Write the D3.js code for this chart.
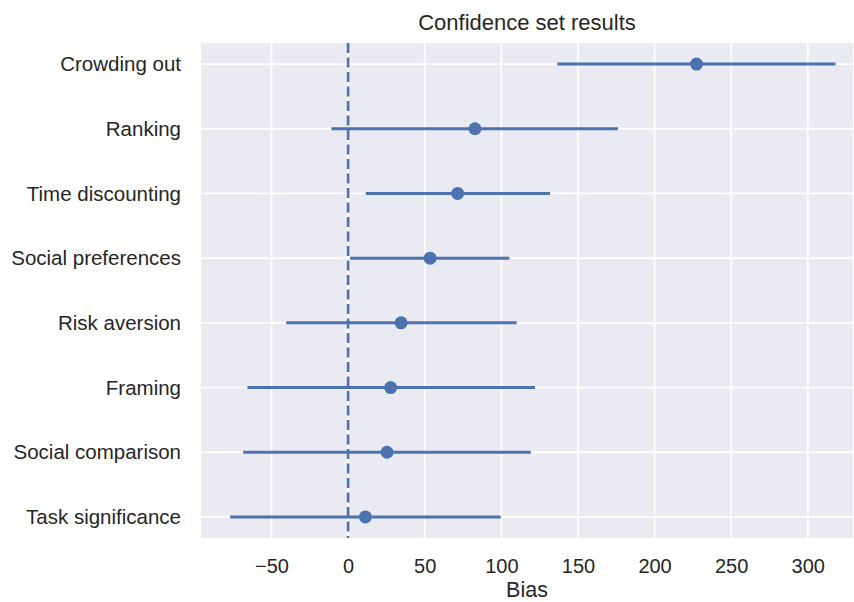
<!DOCTYPE html>
<html lang="en">
<head>
<meta charset="UTF-8">
<title>Confidence set results</title>
<style>
    body { margin: 0; background: #fff; }
    text { font-family: "Liberation Sans", Arial, sans-serif; fill: #262626; }
    .grid line { stroke: #fff; stroke-width: 1.8px; }
    .ci { stroke: #4c72b0; stroke-width: 3px; }
    .dot { fill: #4c72b0; }
</style>
</head>
<body>
<script src="https://d3js.org/d3.v7.min.js"></script>
<script>
    const categories = ["Crowding out", "Ranking", "Time discounting", "Social preferences",
        "Risk aversion", "Framing", "Social comparison", "Task significance"];
    const estimates = [227.4, 82.8, 71.5, 53.5, 34.6, 27.8, 25.4, 11.3];
    const lower = [136.5, -10.9, 11.5, 1.3, -40.4, -65.7, -68.5, -77.0];
    const upper = [318.1, 176.1, 131.8, 105.2, 110.0, 122.0, 119.2, 99.6];
    const xTicks = [-50, 0, 50, 100, 150, 200, 250, 300];

    const width = 854, height = 602;
    const margin = { top: 43, right: 1, bottom: 64, left: 201 };

    const svg = d3.select("body").append("svg")
        .attr("width", width)
        .attr("height", height);

    const x = d3.scaleLinear()
        .domain([-96, 329.5])
        .range([margin.left, width - margin.right]);

    const y = d3.scalePoint()
        .domain(categories)
        .range([margin.top, height - margin.bottom])
        .padding(0.325);

    // background panel
    svg.append("rect")
        .attr("x", margin.left)
        .attr("y", margin.top)
        .attr("width", width - margin.right - margin.left)
        .attr("height", height - margin.bottom - margin.top)
        .attr("fill", "#eaeaf2");

    const grid = svg.append("g").attr("class", "grid");
    grid.selectAll(".vx")
        .data(xTicks)
        .enter().append("line")
        .attr("x1", d => x(d)).attr("x2", d => x(d))
        .attr("y1", margin.top).attr("y2", height - margin.bottom);
    grid.selectAll(".hy")
        .data(categories)
        .enter().append("line")
        .attr("x1", margin.left).attr("x2", width - margin.right)
        .attr("y1", d => y(d)).attr("y2", d => y(d));

    // zero reference line
    svg.append("line")
        .attr("x1", x(0)).attr("x2", x(0))
        .attr("y1", margin.top).attr("y2", height - margin.bottom)
        .attr("stroke", "#4c72b0")
        .attr("stroke-width", 2.6)
        .attr("stroke-dasharray", "10,4.5");

    const rows = categories.map((c, i) => ({ name: c, est: estimates[i], lo: lower[i], hi: upper[i] }));

    svg.selectAll(".ci")
        .data(rows)
        .enter().append("line")
        .attr("class", "ci")
        .attr("x1", d => x(d.lo)).attr("x2", d => x(d.hi))
        .attr("y1", d => y(d.name)).attr("y2", d => y(d.name));

    svg.selectAll(".dot")
        .data(rows)
        .enter().append("circle")
        .attr("class", "dot")
        .attr("cx", d => x(d.est))
        .attr("cy", d => y(d.name))
        .attr("r", 6.5);

    // axes
    const xAxis = svg.append("g")
        .attr("transform", `translate(0,${height - margin.bottom})`)
        .call(d3.axisBottom(x).tickValues(xTicks).tickSize(0).tickPadding(21)
            .tickFormat(d => d < 0 ? "\u2212" + Math.abs(d) : d));
    xAxis.select(".domain").remove();
    xAxis.selectAll("text").style("font-size", "20px").attr("fill", "#262626");

    const yAxis = svg.append("g")
        .attr("transform", `translate(${margin.left},0)`)
        .call(d3.axisLeft(y).tickSize(0).tickPadding(20));
    yAxis.select(".domain").remove();
    yAxis.selectAll("text").style("font-size", "20.5px").attr("fill", "#262626");

    svg.append("text")
        .attr("x", (margin.left + width - margin.right) / 2)
        .attr("y", 30)
        .attr("text-anchor", "middle")
        .style("font-size", "22px")
        .text("Confidence set results");

    svg.append("text")
        .attr("x", (margin.left + width - margin.right) / 2)
        .attr("y", 597)
        .attr("text-anchor", "middle")
        .style("font-size", "21.5px")
        .text("Bias");
</script>
</body>
</html>
